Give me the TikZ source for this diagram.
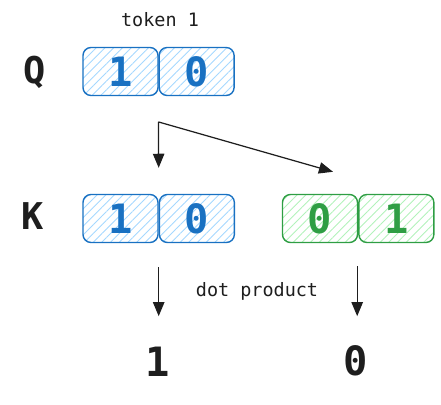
\documentclass[tikz,border=0pt]{standalone}
\usepackage{fontspec}
\setmonofont{DejaVu Sans Mono}
\usepackage{tikz}
\usetikzlibrary{positioning,calc,arrows.meta,patterns.meta}

\definecolor{qblue}{HTML}{1971C2}
\definecolor{qfill}{HTML}{A5D8FF}
\definecolor{kgreen}{HTML}{2F9E44}
\definecolor{kfill}{HTML}{B2F2BB}
\definecolor{ink}{HTML}{1E1E1E}

\tikzset{
  cell/.style={draw, rounded corners=0.16cm, minimum width=1.5cm, minimum height=0.96cm,
    line width=0.8pt, inner sep=0pt, font=\ttfamily\fontsize{23}{23}\selectfont\bfseries},
  bluecell/.style={cell, draw=qblue, text=qblue,
    pattern={Lines[angle=45,distance=3.5pt,line width=0.5pt]}, pattern color=qfill},
  greencell/.style={cell, draw=kgreen, text=kgreen,
    pattern={Lines[angle=45,distance=3.5pt,line width=0.5pt]}, pattern color=kfill},
  rowlabel/.style={text=ink, font=\ttfamily\fontsize{21}{21}\selectfont\bfseries},
  small/.style={text=ink, font=\ttfamily\fontsize{10.5}{12}\selectfont},
  result/.style={text=ink, font=\ttfamily\fontsize{23}{23}\selectfont\bfseries},
  arr/.style={draw=ink, line width=0.7pt, -{Triangle[length=8pt,width=6.5pt]}}
}

\begin{document}
\begin{tikzpicture}[x=0.02cm, y=-0.02cm]
\useasboundingbox (0,0) rectangle (441,405);

% query row
\node[small] (tok) at (160,20) {token 1};
\node[rowlabel] (Q) at (35,72) {Q};
\node[bluecell] (q1) at (120.5,71.5) {1};
\node[bluecell, right=0pt of q1] (q2) {0};

% key row
\node[rowlabel] (K) at (33,216) {K};
\node[bluecell] (k1) at (120.5,218.5) {1};
\node[bluecell, right=0pt of k1] (k2) {0};
\node[greencell] (g1) at (320,218.5) {0};
\node[greencell, right=0pt of g1] (g2) {1};

% results
\node[small] (dot) at (257,291) {dot product};
\node[result] (r1) at (158,362) {1};
\node[result] (r2) at (356,361) {0};

% arrows
\coordinate (split) at ($(q1.south east)+(0,26)$);
\coordinate (hitk) at ($(k1.north east)+(0,-26)$);
\coordinate (hitg) at ($(g1.north)+(13,-22)$);
\draw[arr] (split) -- (hitk);
\draw[arr] (split) -- (hitg);
\coordinate (outk) at ($(k1.south east)+(0,24)$);
\coordinate (outg) at ($(g1.south east)+(-1,23)$);
\draw[arr] (outk) -- ($(outk)+(0,49)$);
\draw[arr] (outg) -- ($(outg)+(0,50)$);
\end{tikzpicture}
\end{document}
